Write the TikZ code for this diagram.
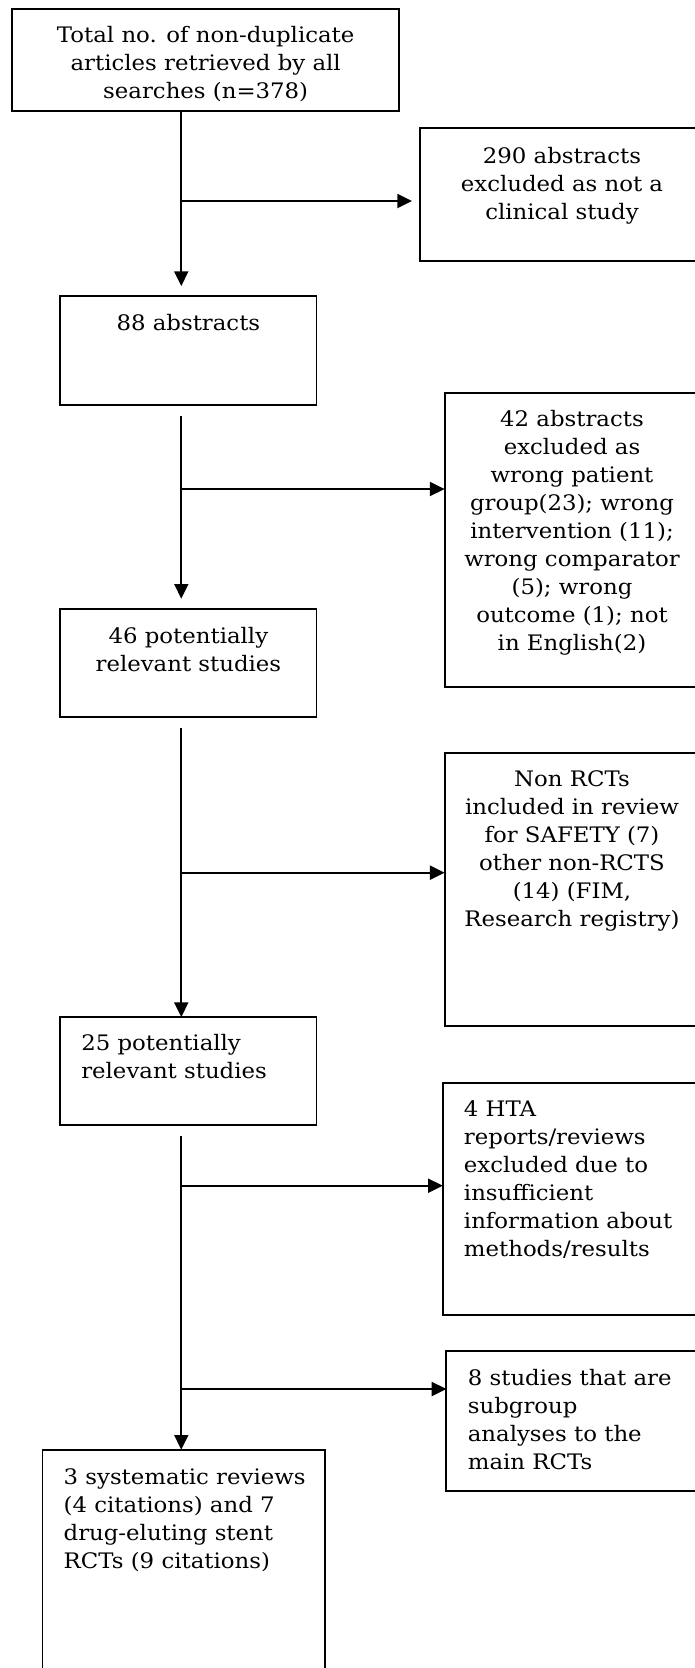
\documentclass[tikz,border=0pt]{standalone}
\usepackage{fontspec}
\setmainfont[FakeStretch=1.07]{DejaVu Serif}
\usetikzlibrary{arrows.meta}
\begin{document}
\begin{tikzpicture}[x=0.75pt,y=-0.75pt,
  box/.style={draw=black,line width=1.4pt,inner sep=0pt,outer sep=0pt,anchor=north west},
  txt/.style={inner sep=0pt,font=\fontsize{16}{21}\selectfont},
  ctxt/.style={txt,align=center,anchor=north},
  ltxt/.style={txt,align=left,anchor=north west},
  arr/.style={line width=1.4pt,-{Triangle[length=11pt,width=10.5pt]}}]
\useasboundingbox (0,0) rectangle (695,1668);
\clip (0,0) rectangle (695,1668);
\fill[white] (0,0) rectangle (695,1668);

% boxes
\node[box,minimum width=289.95pt,minimum height=76.5pt] (b1) at (12.4,9) {};
\node[box,minimum width=213pt,minimum height=99.75pt] (b2) at (420,128) {};
\node[box,minimum width=192.15pt,minimum height=81.75pt] (b3) at (60.3,296) {};
\node[box,minimum width=191.25pt,minimum height=220.5pt] (b4) at (444.6,393) {};
\node[box,minimum width=192.15pt,minimum height=81.2pt] (b5) at (60.3,608.7) {};
\node[box,minimum width=191.25pt,minimum height=204.75pt] (b6) at (444.6,752.7) {};
\node[box,minimum width=192.15pt,minimum height=81pt] (b7) at (60.3,1017) {};
\node[box,minimum width=193.5pt,minimum height=174pt] (b8) at (442.8,1083) {};
\node[box,minimum width=190.5pt,minimum height=105pt] (b9) at (446.4,1351) {};
\node[box,minimum width=211.9pt,minimum height=180pt] (b10) at (42.5,1449.7) {};

% texts
\node[ctxt] (t1) at (205.7,25.7) {Total no. of non-duplicate\\articles retrieved by all\\searches (n=378)};
\node[ctxt] (t2) at (562,146.7) {290 abstracts\\excluded as not a\\clinical study};
\node[ctxt] (t3) at (188.4,314) {88 abstracts};
\node[ctxt] (t4) at (572,410) {42 abstracts\\excluded as\\wrong patient\\group(23); wrong\\intervention (11);\\wrong comparator\\(5); wrong\\outcome (1); not\\in English(2)};
\node[ctxt] (t5) at (188.4,626.7) {46 potentially\\relevant studies};
\node[ctxt] (t6) at (572,770.7) {Non RCTs\\included in review\\for SAFETY (7)\\other non-RCTS\\(14) (FIM,\\Research registry)};
\node[ltxt] (t7) at (81,1034) {25 potentially\\relevant studies};
\node[ltxt] (t8) at (463.7,1100.7) {4 HTA\\reports/reviews\\excluded due to\\insufficient\\information about\\methods/results};
\node[ltxt] (t9) at (467.6,1369) {8 studies that are\\subgroup\\analyses to the\\main RCTs};
\node[ltxt] (t10) at (63.4,1468) {3 systematic reviews\\(4 citations) and 7\\drug-eluting stent\\RCTs (9 citations)};

% main spine
\coordinate (sp) at (181.3,0);
\draw[arr,shorten >=7.5pt] (sp |- b1.south) -- (sp |- b3.north);
\draw[arr,shorten <=8pt,shorten >=7.5pt] (sp |- b3.south) -- (sp |- b5.north);
\draw[arr,shorten <=8pt] (sp |- b5.south) -- (sp |- b7.north);
\draw[arr,shorten <=8.5pt] (sp |- b7.south) -- (sp |- b10.north);

% branches
\coordinate (j1) at (181.3,201);
\coordinate (j2) at (181.3,489);
\coordinate (j3) at (181.3,872.7);
\coordinate (j4) at (181.3,1185.7);
\coordinate (j5) at (181.3,1389);
\draw[arr,shorten >=6pt] (j1) -- (j1 -| b2.west);
\draw[arr] (j2) -- (j2 -| b4.west);
\draw[arr] (j3) -- (j3 -| b6.west);
\draw[arr] (j4) -- (j4 -| b8.west);
\draw[arr] (j5) -- (j5 -| b9.west);
\end{tikzpicture}
\end{document}
